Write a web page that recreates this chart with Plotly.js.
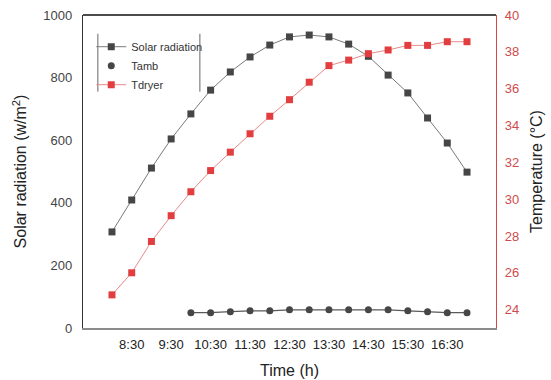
<!DOCTYPE html>
<html>
<head>
<meta charset="utf-8">
<script src="https://cdn.plot.ly/plotly-3.0.1.min.js"></script>
<style>html,body{margin:0;padding:0;background:#fff;}#chart{width:551px;height:380px;}</style>
</head>
<body>
<div id="chart"></div>
<script>
// Time stamps (h:mm)
const times = ["8:00","8:30","9:00","9:30","10:00","10:30","11:00","11:30","12:00","12:30","13:00","13:30","14:00","14:30","15:00","15:30","16:00","16:30","17:00"];
// Solar radiation (W/m2)
const solarRadiation = [307, 409, 511, 604, 684, 760, 818, 866, 904, 930, 936, 930, 907, 868, 808, 751, 671, 591, 498];
// Tamb time stamps and values (plotted on left axis)
const tambTimes = ["10:00","10:30","11:00","11:30","12:00","12:30","13:00","13:30","14:00","14:30","15:00","15:30","16:00","16:30","17:00"];
const tamb = [49, 49, 52, 55, 55, 58, 58, 58, 58, 58, 58, 55, 52, 49, 49];
// Dryer temperature (°C)
const tdryer = [24.8, 26.0, 27.7, 29.1, 30.4, 31.55, 32.55, 33.55, 34.5, 35.4, 36.35, 37.25, 37.55, 37.9, 38.1, 38.35, 38.35, 38.55, 38.55];
// X tick labels
const tickLabels = ["8:30","9:30","10:30","11:30","12:30","13:30","14:30","15:30","16:30"];

function toHours(t){ const p = t.split(":"); return +p[0] + (+p[1])/60; }
const x = times.map(toHours);
const xT = tambTimes.map(toHours);
const tickVals = tickLabels.map(toHours);

const dark = "#464646";
const red = "#e23d3f";
const FONT = "Liberation Sans, Arial, sans-serif";

const traces = [
  {x: x, y: solarRadiation, name: "Solar radiation", type: "scatter", mode: "lines+markers",
   line: {color: "#7a7a7a", width: 1}, marker: {symbol: "square", size: 7, color: dark}},
  {x: xT, y: tamb, name: "Tamb", type: "scatter", mode: "lines", showlegend: false,
   line: {color: "#5a5a5a", width: 1.2}, hoverinfo: "skip"},
  {x: xT, y: tamb, name: "Tamb", type: "scatter", mode: "markers",
   marker: {symbol: "circle", size: 7, color: dark}},
  {x: x, y: tdryer, name: "Tdryer", type: "scatter", mode: "lines+markers", yaxis: "y2",
   line: {color: "#e88a8a", width: 1}, marker: {symbol: "square", size: 7, color: red}}
];

const layout = {
  width: 551, height: 380,
  margin: {l: 83, r: 55, t: 15, b: 52},
  paper_bgcolor: "#fff", plot_bgcolor: "#fff",
  font: {family: FONT, size: 13, color: "#333"},
  showlegend: true,
  legend: {x: 0.02, y: 0.945, xanchor: "left", yanchor: "top", bgcolor: "rgba(0,0,0,0)",
           borderwidth: 0, font: {family: FONT, size: 11, color: "#333"}, tracegroupgap: 0},
  xaxis: {range: [7.265, 17.735], tickvals: tickVals, ticktext: tickLabels, showgrid: false, zeroline: false,
          showline: true, linecolor: "#8c8c8c", linewidth: 2, ticks: "", ticklabelstandoff: 3,
          tickfont: {size: 13, color: "#222"},
          title: {text: "Time (h)", font: {size: 16, color: "#222"}, standoff: 14}},
  yaxis: {range: [0, 1000], dtick: 200, showgrid: false, zeroline: false, showline: true, linecolor: "#333",
          linewidth: 1.2, ticks: "", ticklabelstandoff: 7, tickfont: {size: 13, color: "#444"},
          title: {text: "Solar radiation (w/m<sup>2</sup>)", font: {size: 16, color: "#222"}, standoff: 12}},
  yaxis2: {overlaying: "y", side: "right", range: [23, 40], tickvals: [24,26,28,30,32,34,36,38,40],
           showgrid: false, zeroline: false, showline: true, linecolor: "#d9474a", linewidth: 1.2, ticks: "",
           ticklabelstandoff: 5, tickfont: {size: 13, color: "#cf4b4b"},
           title: {text: "Temperature (°C)", font: {size: 16, color: "#222"}, standoff: 12}},
  shapes: [
    {type: "line", xref: "paper", yref: "paper", x0: 0, x1: 1, y0: 1, y1: 1, line: {color: "#111", width: 1.5}},
    {type: "line", xref: "paper", yref: "paper", x0: 0.036, x1: 0.036, y0: 0.94, y1: 0.755, line: {color: "#666", width: 1}},
    {type: "line", xref: "paper", yref: "paper", x0: 0.283, x1: 0.283, y0: 0.94, y1: 0.755, line: {color: "#666", width: 1}}
  ]
};

Plotly.newPlot("chart", traces, layout, {displayModeBar: false, staticPlot: true});
</script>
</body>
</html>
